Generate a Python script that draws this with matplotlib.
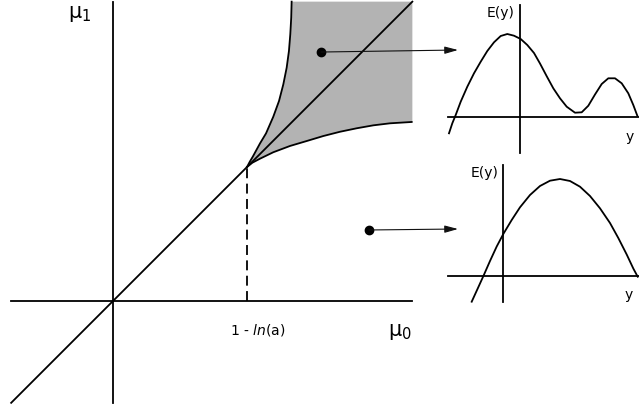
import matplotlib
matplotlib.use("Agg")
import matplotlib.pyplot as plt

plt.rcParams['mathtext.default'] = 'regular'
plt.rcParams['font.family'] = ['DejaVu Sans']

# ---------------- data ----------------
# main diagram, units where the threshold 1 - ln(a) == 1
threshold = 1.0
axis_min, axis_max = -0.76, 2.234
lower_x = [1.0, 1.040, 1.097, 1.196, 1.321, 1.446, 1.569, 1.694, 1.819, 1.943, 2.067, 2.229]
lower_y = [1.0, 1.032, 1.062, 1.110, 1.157, 1.194, 1.231, 1.263, 1.289, 1.311, 1.326, 1.336]
upper_x = [1.0, 1.020, 1.043, 1.097, 1.142, 1.196, 1.239, 1.271, 1.296, 1.313, 1.323, 1.330, 1.333]
upper_y = [1.0, 1.038, 1.077, 1.176, 1.251, 1.375, 1.493, 1.617, 1.741, 1.866, 1.990, 2.115, 2.234]
dot_shaded = (1.552, 1.858)
dot_white = (1.910, 0.530)

# inset 1 (shaded region): E(y) with two maxima
e1_y = [-1.42, -1.354, -1.286, -1.186, -1.054, -0.92, -0.786, -0.654, -0.52, -0.386,
        -0.254, -0.12, 0.014, 0.146, 0.28, 0.40, 0.534, 0.666, 0.80, 0.934, 1.10,
        1.234, 1.366, 1.50, 1.634, 1.766, 1.90, 2.034, 2.166, 2.266, 2.346]
e1_E = [-0.326, -0.126, 0.04, 0.306, 0.606, 0.874, 1.106, 1.32, 1.494, 1.62,
        1.66, 1.626, 1.56, 1.44, 1.28, 1.07, 0.816, 0.574, 0.374, 0.206, 0.086,
        0.094, 0.225, 0.45, 0.66, 0.774, 0.774, 0.674, 0.474, 0.24, 0.026]
# inset 2 (white region): E(y) with one maximum
e2_y = [-0.626, -0.494, -0.394, -0.26, -0.126, 0.006, 0.174, 0.34, 0.54, 0.74, 0.94,
        1.14, 1.34, 1.54, 1.74, 1.94, 2.14, 2.306, 2.474, 2.606, 2.694]
e2_E = [-0.514, -0.225, -0.005, 0.30, 0.59, 0.84, 1.12, 1.374, 1.62, 1.80, 1.906,
        1.94, 1.90, 1.786, 1.60, 1.354, 1.06, 0.76, 0.43, 0.15, -0.014]
arrow_tip1 = (-1.24, 1.34)
arrow_tip2 = (-0.90, 0.94)

# ---------------- figure ----------------
W, H = 639, 409
fig = plt.figure(figsize=(W / 100, H / 100), dpi=100)
fig.patch.set_facecolor('white')

def px_axes(x0, y0, x1, y1):
    return fig.add_axes([x0 / W, 1 - y1 / H, (x1 - x0) / W, (y1 - y0) / H])

lw = 1.3
ink = 'black'

# main axes: pixel box 0..420 x 0..409, 134 px per unit, origin at (113, 301)
ax = px_axes(0, 0, 420, 409)
ax.set_xlim(-113 / 134, (420 - 113) / 134)
ax.set_ylim((301 - 409) / 134, 301 / 134)
ax.axis('off')

# shaded region
poly_x = list(upper_x) + [axis_max, axis_max] + list(lower_x[::-1])
poly_y = list(upper_y) + [axis_max, lower_y[-1]] + list(lower_y[::-1])
ax.fill(poly_x, poly_y, color='#b3b3b3', lw=0, zorder=1)
ax.plot(upper_x, upper_y, color=ink, lw=lw, zorder=3, solid_joinstyle='round')
ax.plot(lower_x, lower_y, color=ink, lw=lw, zorder=3, solid_joinstyle='round')

# axes and diagonal
ax.plot([axis_min, axis_max], [0, 0], color=ink, lw=lw, zorder=3)
ax.plot([0, 0], [axis_min, axis_max], color=ink, lw=lw, zorder=3)
ax.plot([axis_min, axis_max], [axis_min, axis_max], color=ink, lw=lw, zorder=3)
ax.plot([threshold, threshold], [0, threshold], color=ink, lw=lw,
        linestyle=(0, (5.5, 3.0)), zorder=3)

ax.text(-0.246, 2.142, r'$\mu_1$', fontsize=15, ha='center', va='center')
ax.text(2.142, -0.231, r'$\mu_0$', fontsize=15, ha='center', va='center')
ax.text(1.082, -0.216, r'1 - $\mathit{ln}$(a)', fontsize=10, ha='center', va='center')

ax.plot(*dot_shaded, 'o', color=ink, ms=6, zorder=5)
ax.plot(*dot_white, 'o', color=ink, ms=6, zorder=5)

# inset 1: pixel box 440..639 x 0..160, origin (520, 117), 50 px per unit
ax1 = px_axes(440, 0, 639, 160)
ax1.set_xlim((440 - 520) / 50, (639 - 520) / 50)
ax1.set_ylim((117 - 160) / 50, 117 / 50)
ax1.axis('off')
ax1.plot([-1.44, 2.38], [0, 0], color=ink, lw=lw, clip_on=False)
ax1.plot([0, 0], [-0.72, 2.24], color=ink, lw=lw, clip_on=False)
ax1.plot(e1_y, e1_E, color=ink, lw=lw, clip_on=False, solid_joinstyle='round')
ax1.text(-0.12, 2.08, 'E(y)', fontsize=10, ha='right', va='center')
ax1.text(2.20, -0.40, 'y', fontsize=10, ha='center', va='center')

# inset 2: pixel box 440..639 x 160..310, origin (503, 276)
ax2 = px_axes(440, 160, 639, 310)
ax2.set_xlim((440 - 503) / 50, (639 - 503) / 50)
ax2.set_ylim((276 - 310) / 50, (276 - 160) / 50)
ax2.axis('off')
ax2.plot([-1.10, 2.72], [0, 0], color=ink, lw=lw, clip_on=False)
ax2.plot([0, 0], [-0.52, 2.22], color=ink, lw=lw, clip_on=False)
ax2.plot(e2_y, e2_E, color=ink, lw=lw, clip_on=False, solid_joinstyle='round')
ax2.text(-0.08, 2.06, 'E(y)', fontsize=10, ha='right', va='center')
ax2.text(2.52, -0.38, 'y', fontsize=10, ha='center', va='center')

# arrows from dots to insets
for tip, axi, dot in [(arrow_tip1, ax1, dot_shaded), (arrow_tip2, ax2, dot_white)]:
    axi.annotate('', xy=tip, xycoords=axi.transData,
                 xytext=dot, textcoords=ax.transData,
                 arrowprops=dict(arrowstyle='-|>,head_length=0.8,head_width=0.22',
                                 color='#111111', lw=0.8, shrinkA=0, shrinkB=0),
                 annotation_clip=False)

fig.savefig('out.png', dpi=100, facecolor='white')
